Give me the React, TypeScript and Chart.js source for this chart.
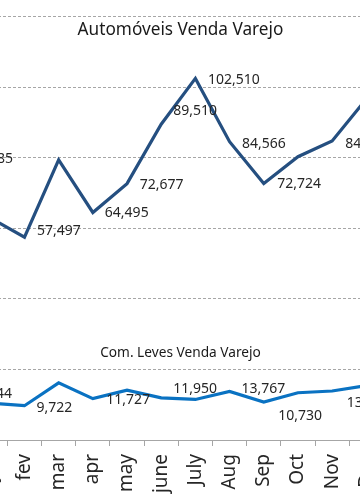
import React, { useEffect, useRef } from "react";
import { Chart, registerables } from "chart.js";

Chart.register(...registerables);

const categories = ["jan", "fev", "mar", "apr", "may", "june", "July", "Aug", "Sep", "Oct", "Nov", "Dec"];
const autoValues = [62985, 57497, 79400, 64495, 72677, 89510, 102510, 84566, 72724, 80300, 84770, 96700];
const comValues = [10444, 9722, 16200, 11727, 14150, 11950, 11500, 13767, 10730, 13400, 13890, 15400];
const autoShowLabel = [true, true, false, true, true, true, true, true, true, false, true, false];
const comShowLabel = [true, true, false, true, false, true, false, true, true, false, true, false];
const yTicks = [0, 20000, 40000, 60000, 80000, 100000, 120000];
const autoTitle = "Automóveis Venda Varejo";
const comTitle = "Com. Leves Venda Varejo";

// label placement relative to the point: [dx to left edge, dy of text centre]
const autoLabelOffsets: (number[] | null)[] = [[-21, -60], [12.5, -7], null, [12, 0], [12.7, 0], [12, -14], [12.5, 1], [12.5, 1], [13.5, 0], null, [13, 2], null];
const comLabelOffsets: (number[] | null)[] = [[-22, -10], [12, 1], null, [13.5, 0], null, [12, -9.5], null, [12, -3], [14.5, 13], null, [14.7, 10.7], null];

const FONT = "'Noto Sans', sans-serif";

const labelPlugin = {
  id: "customLabels",
  afterDatasetsDraw(chart: any) {
    const ctx = chart.ctx;
    ctx.save();
    const size = 14;
    ctx.font = `${size}px ${FONT}`;
    ctx.fillStyle = "#262626";
    ctx.textAlign = "left";
    ctx.textBaseline = "alphabetic";
    const sets = [
      { values: autoValues, show: autoShowLabel, offs: autoLabelOffsets },
      { values: comValues, show: comShowLabel, offs: comLabelOffsets },
    ];
    sets.forEach((s, di) => {
      const meta = chart.getDatasetMeta(di);
      meta.data.forEach((pt: any, i: number) => {
        if (!s.show[i] || !s.offs[i]) return;
        const [dx, dy] = s.offs[i] as number[];
        const txt = s.values[i].toLocaleString("en-US");
        ctx.fillText(txt, pt.x + dx, pt.y + dy + size * 0.357);
      });
    });
    // titles
    const cx = (chart.chartArea.left + chart.chartArea.right) / 2 + 2.2;
    ctx.textAlign = "center";
    ctx.fillStyle = "#1a1a1a";
    ctx.font = `17.2px ${FONT}`;
    ctx.fillText(autoTitle, cx, 35);
    ctx.font = `13.7px ${FONT}`;
    ctx.fillText(comTitle, cx, 357);
    ctx.restore();
  },
};

export default function App() {
  const ref = useRef<HTMLCanvasElement>(null);
  useEffect(() => {
    if (!ref.current) return;
    const chart = new Chart(ref.current, {
      type: "line",
      data: {
        labels: categories,
        datasets: [
          {
            data: autoValues,
            borderColor: "#254f80",
            borderWidth: 3.2,
            pointRadius: 0,
            tension: 0,
            fill: false,
          },
          {
            data: comValues,
            borderColor: "#0a72c2",
            borderWidth: 3.2,
            pointRadius: 0,
            tension: 0,
            fill: false,
          },
        ],
      },
      options: {
        animation: false,
        responsive: false,
        events: [],
        layout: { padding: { left: 33.2, right: 36.6, top: 16.7, bottom: 0 } },
        plugins: { legend: { display: false }, tooltip: { enabled: false }, title: { display: false } },
        scales: {
          x: {
            offset: true,
            grid: {
              offset: true,
              drawOnChartArea: false,
              drawTicks: true,
              tickLength: 6,
              color: "#a6a6a6",
            },
            border: { display: true, color: "#a6a6a6", width: 1 },
            ticks: {
              minRotation: 90,
              maxRotation: 90,
              autoSkip: false,
              padding: 8,
              color: "#262626",
              font: { family: FONT, size: 19 },
            },
            afterFit: (scale: any) => {
              scale.height = 64;
            },
          },
          y: {
            min: 0,
            max: 120000,
            afterBuildTicks: (scale: any) => {
              scale.ticks = yTicks.map((v) => ({ value: v }));
            },
            ticks: { display: false },
            grid: { drawTicks: false, color: "#a6a6a6", lineWidth: 1 },
            border: { display: false, dash: [3, 2] },
            afterFit: (scale: any) => {
              scale.width = 0;
            },
          },
        },
      },
      plugins: [labelPlugin],
    });
    return () => chart.destroy();
  }, []);
  return (
    <div style={{ position: "fixed", left: 0, top: 0, width: 360, height: 504, overflow: "hidden", background: "#fff" }}>
      <div style={{ position: "absolute", left: -60, top: 0, width: 480, height: 504 }}>
        <canvas ref={ref} width={480} height={504} style={{ display: "block" }} />
      </div>
    </div>
  );
}
